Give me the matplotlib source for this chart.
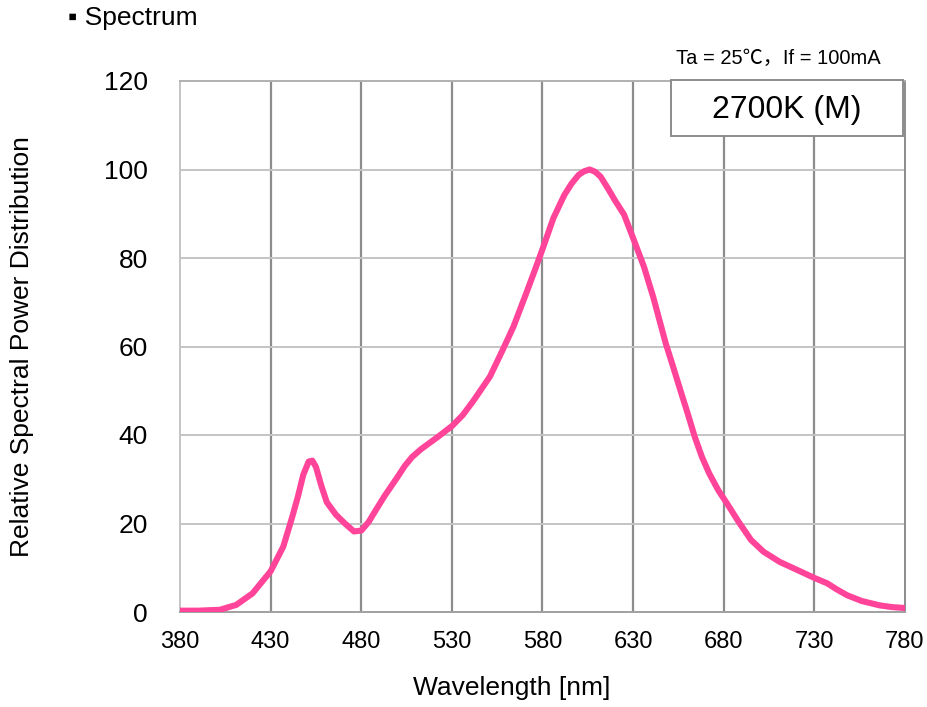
import matplotlib
matplotlib.use("Agg")
import matplotlib.pyplot as plt
from matplotlib.patches import Rectangle

# spectrum (wavelength nm, relative power)
wavelength = [380, 390, 402, 411, 420, 430, 437, 442, 445, 448, 451, 453, 455,
              458, 461, 466, 471, 476, 480, 484, 488, 493, 500, 504, 508, 513,
              518, 523, 530, 536, 542, 551, 558, 564, 571, 576, 580, 586, 592,
              596, 600, 603, 606, 609, 612, 616, 620, 625, 630, 636, 641, 648,
              652, 656, 660, 664, 668, 672, 677, 682, 688, 695, 702, 711, 720,
              730, 737, 742, 748, 756, 766, 773, 780]
power = [0.3, 0.3, 0.5, 1.6, 4.2, 9.2, 14.8, 21.6, 26.0, 31.0, 34.0, 34.2, 32.8,
         28.5, 24.8, 22.0, 20.0, 18.2, 18.4, 20.3, 23.0, 26.3, 30.5, 33.0, 35.0, 36.8,
         38.3, 39.8, 42.0, 44.5, 47.8, 53.2, 59.2, 64.5, 72.0, 77.5, 82.0, 89.0, 94.2,
         96.8, 98.8, 99.6, 100.0, 99.5, 98.4, 95.8, 93.0, 89.8, 84.5, 78.0, 71.3, 60.7,
         55.5, 50.2, 45.0, 39.6, 35.0, 31.3, 27.5, 24.4, 20.5, 16.3, 13.6, 11.3, 9.6,
         7.7, 6.5, 5.2, 3.8, 2.5, 1.5, 1.1, 0.9]
xticks = [380, 430, 480, 530, 580, 630, 680, 730, 780]
yticks = [0, 20, 40, 60, 80, 100, 120]

plt.rcParams['font.family'] = ['Liberation Sans', 'DejaVu Sans']

fig = plt.figure(figsize=(9.28, 7.07), dpi=100)
ax = fig.add_axes([180/928, 1-612/707, 725/928, 531/707])

ax.plot(wavelength, power, color='#ff4499', lw=4.4, solid_capstyle='round',
        solid_joinstyle='round', zorder=3)

ax.set_xlim(380, 780)
ax.set_ylim(0, 120)
ax.set_xticks(xticks)
ax.set_yticks(yticks)
ax.set_xticklabels([str(t) for t in xticks], fontsize=17)
ax.set_yticklabels([str(t) for t in yticks], fontsize=19)
ax.tick_params(length=0)
ax.tick_params(axis='x', pad=14)
ax.tick_params(axis='y', pad=23)

for x in xticks[1:-1]:
    ax.axvline(x, color='#8c8c8c', lw=1.6, zorder=1)
for y in yticks[1:-1]:
    ax.axhline(y, color='#c4c4c4', lw=1.4, zorder=1)

ax.spines['left'].set_color('#c4c4c4')
ax.spines['top'].set_color('#b0b0b0')
ax.spines['bottom'].set_color('#a0a0a0')
ax.spines['right'].set_color('#8c8c8c')
for s in ax.spines.values():
    s.set_linewidth(1.4)

fig.text(512/928, 1-688/707, 'Wavelength [nm]', fontsize=19,
         ha='center', va='center')
fig.text(22/928, 1-347/707, 'Relative Spectral Power Distribution', fontsize=19,
         rotation=90, ha='center', va='center')

fig.text(68/928, 1-18/707, '▪ Spectrum', fontsize=19,
         family=['Liberation Sans', 'DejaVu Sans'], ha='left', va='center')
fig.text(778/928, 1-58/707, 'Ta = 25℃，If = 100mA', fontsize=14.5,
         family=['Liberation Sans', 'Noto Sans CJK JP', 'DejaVu Sans'],
         ha='center', va='center')

box = Rectangle((671/928, 1-136/707), 232/928, 56/707, transform=fig.transFigure,
                facecolor='white', edgecolor='#8c8c8c', lw=1.4, zorder=5)
fig.add_artist(box)
fig.text(787/928, 1-110/707, '2700K (M)', fontsize=23, ha='center', va='center',
         zorder=6)

fig.savefig('out.png', dpi=100)
